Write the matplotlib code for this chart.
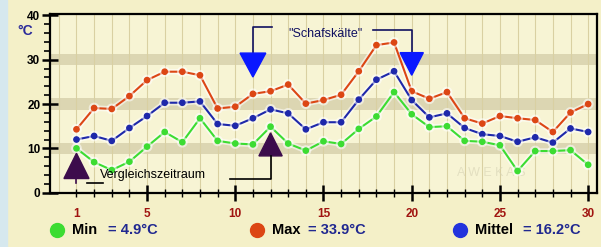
import matplotlib
matplotlib.use("Agg")
import matplotlib.pyplot as plt
import matplotlib.patheffects as pe
from matplotlib.lines import Line2D
from matplotlib.patches import Rectangle

# daily temperatures (deg C), days 1..30
days = list(range(1, 31))
t_max = [14.3, 19.1, 18.9, 21.8, 25.4, 27.3, 27.3, 26.5, 19.0, 19.4,
         22.3, 22.9, 24.4, 20.1, 20.9, 22.1, 27.4, 33.3, 33.9, 22.9,
         21.2, 22.7, 16.8, 15.6, 17.3, 16.8, 16.4, 13.7, 18.1, 20.0]
t_mean = [12.0, 12.8, 11.7, 14.6, 17.3, 20.3, 20.3, 20.6, 15.5, 15.1,
          16.8, 18.8, 17.9, 14.3, 15.9, 15.9, 21.0, 25.5, 27.4, 20.9,
          17.0, 17.9, 14.6, 13.2, 12.8, 11.5, 12.5, 11.3, 14.5, 13.7]
t_min = [10.0, 6.9, 5.1, 7.0, 10.4, 13.7, 11.4, 16.8, 11.7, 11.1,
         10.9, 14.9, 11.1, 9.5, 11.6, 11.0, 14.4, 17.2, 22.7, 17.7,
         14.8, 15.0, 11.7, 11.5, 10.7, 4.9, 9.4, 9.4, 9.6, 6.3]
x_labels = [1, 5, 10, 15, 20, 25, 30]
legend_names = ["Min", "Max", "Mittel"]
legend_values = ["= 4.9°C", "= 33.9°C", "= 16.2°C"]

c_min = "#3cdc32"
c_max = "#dc4614"
c_mean = "#1e28aa"
bg = "#f4f0c8"
plot_bg = "#f7f4d4"

plt.rcParams["font.family"] = ["Liberation Sans", "DejaVu Sans"]

fig = plt.figure(figsize=(6.01, 2.47), dpi=100, facecolor=bg)
fig.add_artist(Rectangle((0, 0), 0.011, 1, transform=fig.transFigure,
                         color="#d6e8ee", zorder=0))
ax = fig.add_axes([0.0832, 0.2198, 0.9101, 0.7232])
ax.set_facecolor(plot_bg)
ax.set_xlim(-0.5, 30.5)
ax.set_ylim(0, 40.3)

# horizontal bands and day grid
for lvl in (10, 20, 30):
    ax.axhspan(lvl - 1.3, lvl + 1.3, color="#dcd6b2", zorder=0.5, lw=0)
for d in range(0, 31):
    ax.axvline(d, color="#d9d0a2", lw=0.8, zorder=0.6)

# watermark
ax.text(24.5, 4.5, "A W E K A S", color="#d6d2b4", alpha=0.6, fontsize=9,
        ha="center", va="center", zorder=0.7)

glow = [pe.Stroke(linewidth=4.0, foreground="white", alpha=0.55), pe.Normal()]
for vals, col in ((t_max, c_max), (t_mean, c_mean), (t_min, c_min)):
    ax.plot(days, vals, color=col, lw=1.5, marker="o", ms=3.8,
            markeredgecolor=col, zorder=3, path_effects=glow)

# "Schafskaelte" annotation
blue_arrow = "#0a18ff"
ax.plot([12.1, 11, 11], [37.4, 37.4, 31.5], color="#101060", lw=1.2, zorder=4)
ax.fill([10.27, 11.73, 11], [31.5, 31.5, 26.1], color=blue_arrow, zorder=4)
ax.plot([17.8, 20, 20], [36.6, 36.6, 31.6], color="#101060", lw=1.2, zorder=4)
ax.fill([19.34, 20.66, 20], [31.6, 31.6, 26.5], color=blue_arrow, zorder=4)
ax.text(15.1, 35.7, '"Schafskälte"', color="#101060", fontsize=9,
        ha="center", va="center", zorder=4)

# "Vergleichszeitraum" annotation
purple = "#3c0c4c"
ax.fill([0.29, 1.71, 1], [3.2, 3.2, 8.9], color=purple, zorder=4)
ax.plot([1, 1], [3.2, 2.3], color=purple, lw=1.2, zorder=4)
ax.plot([1.57, 2.51], [2.3, 2.3], color="black", lw=1.2, zorder=4)
ax.fill([11.34, 12.66, 12], [8.3, 8.3, 13.5], color=purple, zorder=4)
ax.plot([12, 12, 9.7], [8.3, 3.2, 3.2], color="black", lw=1.2, zorder=4)
ax.text(2.35, 4.1, "Vergleichszeitraum", color="black", fontsize=9,
        ha="left", va="center", zorder=4)

# axes styling
for s in ax.spines.values():
    s.set_color("black")
    s.set_linewidth(1.6)
ax.set_yticks([0, 10, 20, 30, 40])
ax.set_yticks(range(0, 41, 2), minor=True)
ax.tick_params(axis="y", which="major", direction="inout", length=12, width=1.8,
               pad=1, labelsize=8.5)
ax.tick_params(axis="y", which="minor", direction="out", length=4, width=1.2)
for lab in ax.get_yticklabels():
    lab.set_fontweight("bold")

ax.set_xticks(x_labels)
ax.set_xticks(days, minor=True)
ax.set_xticklabels([str(v) for v in x_labels])
ax.tick_params(axis="x", which="major", direction="inout", length=12, width=1.8,
               pad=5, labelsize=8.5, labelcolor="#a01410")
ax.tick_params(axis="x", which="minor", direction="inout", length=6, width=1.0)
ax.xaxis.get_major_ticks()[0].tick1line.set_markersize(6)
ax.xaxis.get_major_ticks()[0].tick1line.set_markeredgewidth(1.0)
for lab in ax.get_xticklabels():
    lab.set_fontweight("bold")

fig.text(0.042, 0.875, "°C", color="#2a2a9a", fontsize=10, fontweight="bold",
         ha="center", va="center")

# legend row
leg_x = [0.0955, 0.428, 0.766]
leg_cols = [c_min, c_max, "#2233dd"]
for x0, name, val, col in zip(leg_x, legend_names, legend_values, leg_cols):
    fig.add_artist(Line2D([x0], [0.068], marker="o", ms=10, color=col,
                          markeredgecolor=col, transform=fig.transFigure))
    fig.text(x0 + 0.024, 0.068, name, fontsize=10.5, fontweight="bold",
             color="black", ha="left", va="center")
    fig.text(x0 + (0.084 if name != "Mittel" else 0.104), 0.068, val,
             fontsize=10.5, fontweight="bold", color="#202890",
             ha="left", va="center")

fig.savefig("out.png", dpi=100, facecolor=bg)
